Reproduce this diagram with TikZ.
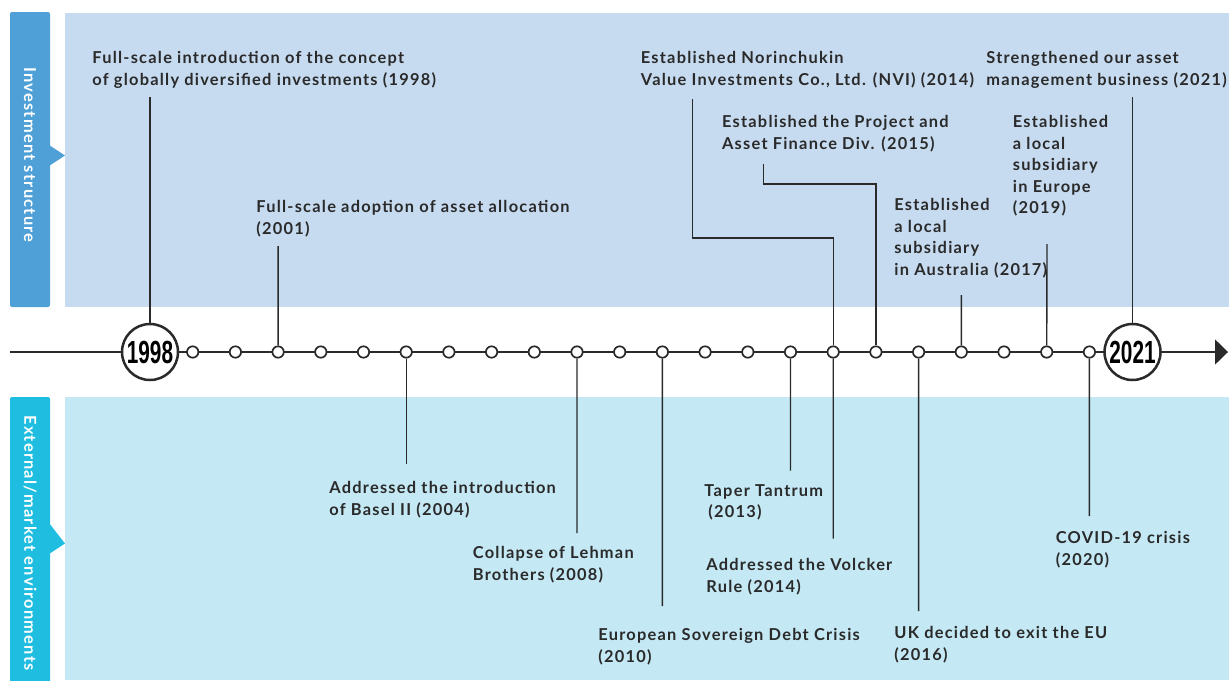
\documentclass[tikz,border=0pt]{standalone}
\usepackage{fontspec}
\setmainfont{Lato}[LetterSpace=7.5]
\newfontfamily\yearfont{Liberation Sans}
\usetikzlibrary{arrows.meta}

\definecolor{tabblue}{HTML}{4EA0D6}
\definecolor{bandblue}{HTML}{C6DBF0}
\definecolor{tabcyan}{HTML}{1FBEE0}
\definecolor{bandcyan}{HTML}{C4E8F4}
\definecolor{ink}{HTML}{2A2A2A}

\begin{document}
\begin{tikzpicture}[
    x=0.5pt, y=-0.5pt,
    event/.style={anchor=north west, inner sep=0pt, align=left, text=ink, font=\fontsize{8.2}{10.75}\selectfont\bfseries},
    stem/.style={draw=ink, line width=0.7pt},
    axisline/.style={draw=ink, line width=0.75pt, -{Triangle[length=6.5pt, width=12.5pt]}},
    dot/.style={circle, draw=ink, fill=white, line width=0.85pt, inner sep=0pt, minimum size=5.7pt},
    yearmark/.style={circle, draw=ink, fill=white, line width=1.25pt, inner sep=0pt, minimum size=28pt},
    tablabel/.style={rotate=-90, text=white, font=\fontsize{8.2}{10}\selectfont\bfseries}
]
\useasboundingbox[fill=white] (0,0) rectangle (1229,680);

% Bands
\fill[bandblue] (65,12.5) rectangle (1229,307);
\fill[bandcyan] (65,397) rectangle (1229,680);

% Tabs
\fill[tabblue, rounded corners=1pt] (10,12) rectangle (50,307);
\fill[tabblue] (49,145) -- (65,155.5) -- (49,166) -- cycle;
\node[tablabel] (invtab) at (30,155) {Investment structure};

\fill[tabcyan, rounded corners=1pt] (10,397) rectangle (50,700);
\fill[tabcyan] (49,523) -- (65,543.5) -- (49,554) -- cycle;
\node[tablabel] (exttab) at (30,543) {External/market environments};

% Axis
\coordinate (axisstart) at (10,352);
\coordinate (axisend) at (1228,352);
\draw[axisline] (axisstart) -- (axisend);

% Year marks
\node[yearmark] (c1998) at (150,352) {\yearfont\bfseries\fontsize{16}{16}\selectfont\scalebox{0.65}[1]{1998}};
\node[yearmark] (c2021) at (1132.5,352) {\yearfont\bfseries\fontsize{16}{16}\selectfont\scalebox{0.65}[1]{2021}};
\foreach \yr in {1999,...,2020}
    \node[dot] (c\yr) at ({150+42.7*(\yr-1998)},352) {};

% Investment structure events
\node[event] (globalinv) at (92,51) {Full-scale introduction of the concept\\of globally diversified investments (1998)};
\node[event] (assetalloc) at (256,200) {Full-scale adoption of asset allocation\\(2001)};
\node[event] (nvi) at (640.5,51) {Established Norinchukin\\Value Investments Co., Ltd. (NVI) (2014)};
\node[event] (pfdiv) at (721.7,115) {Established the Project and\\Asset Finance Div. (2015)};
\node[event] (ausub) at (894,198) {Established\\a local\\subsidiary\\in Australia (2017)};
\node[event] (eusub) at (1012.5,115) {Established\\a local\\subsidiary\\in Europe\\(2019)};
\node[event] (assetmgmt) at (986,51) {Strengthened our asset\\management business (2021)};

% External/market events
\node[event] (basel) at (329,481) {Addressed the introduction\\of Basel II (2004)};
\node[event] (lehman) at (472.5,546) {Collapse of Lehman\\Brothers (2008)};
\node[event] (eurodebt) at (598,628) {European Sovereign Debt Crisis\\(2010)};
\node[event] (taper) at (704,484) {Taper Tantrum\\\hspace*{2pt}(2013)};
\node[event] (volcker) at (706,558) {Addressed the Volcker\\Rule (2014)};
\node[event] (ukexit) at (894,626) {UK decided to exit the EU\\(2016)};
\node[event] (covid) at (1055.5,531) {COVID-19 crisis\\(2020)};

% Stem ends
\coordinate (globalinv-stem) at (150,97);
\coordinate (assetalloc-stem) at (278.1,246);
\coordinate (nvi-stem) at (692.7,99);
\coordinate (pfdiv-stem) at (763.3,164);
\coordinate (ausub-stem) at (961.3,295);
\coordinate (eusub-stem) at (1047,244);
\coordinate (assetmgmt-stem) at (1132.5,97);
\coordinate (basel-stem) at (406.2,464);
\coordinate (lehman-stem) at (577,533);
\coordinate (eurodebt-stem) at (662.4,606);
\coordinate (taper-stem) at (790.5,470.5);
\coordinate (volcker-stem) at (833.2,538.5);
\coordinate (ukexit-stem) at (918.6,611);
\coordinate (covid-stem) at (1089.4,516);

% Stems
\draw[stem] (globalinv-stem) -- (c1998);
\draw[stem] (assetalloc-stem) -- (c2001);
\draw[stem] (nvi-stem) -- ++(0,139) -| (c2014);
\draw[stem] (pfdiv-stem) -- ++(0,20) -| (c2015);
\draw[stem] (ausub-stem) -- (c2017);
\draw[stem] (eusub-stem) -- (c2019);
\draw[stem] (assetmgmt-stem) -- (c2021);
\draw[stem] (c2004) -- (basel-stem);
\draw[stem] (c2008) -- (lehman-stem);
\draw[stem] (c2010) -- (eurodebt-stem);
\draw[stem] (c2013) -- (taper-stem);
\draw[stem] (c2014) -- (volcker-stem);
\draw[stem] (c2016) -- (ukexit-stem);
\draw[stem] (c2020) -- (covid-stem);

\end{tikzpicture}
\end{document}
